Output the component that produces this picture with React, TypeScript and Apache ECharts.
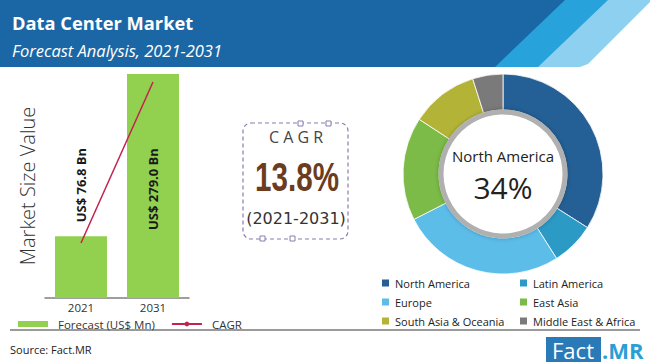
import React, { useEffect, useRef } from "react";
import * as echarts from "echarts";

const years = ["2021", "2031"];
const marketValues = [76.8, 279.0];
const valueLabels = ["US$ 76.8 Bn", "US$ 279.0 Bn"];
const cagrLine = [68.5, 269];
const regions = [
  "North America",
  "Latin America",
  "Europe",
  "East Asia",
  "South Asia & Oceania",
  "Middle East & Africa",
];
const shares = [34, 7, 26.5, 16.7, 10.9, 4.9];
const regionColors = ["#245f95", "#2b9ac5", "#5cbde9", "#7cbb47", "#b3b437", "#7a7a7a"];

const SANS = '"Open Sans", "Noto Sans", sans-serif';

export default function App() {
  const ref = useRef<HTMLDivElement>(null);
  useEffect(() => {
    document.body.style.margin = "0";
    const chart = echarts.init(ref.current!, null, { renderer: "svg" });
    const option: any = {
      animation: false,
      backgroundColor: "#ffffff",
      grid: { left: 45, width: 144, top: 74, bottom: 66 },
      xAxis: {
        type: "category",
        data: years,
        axisLine: { lineStyle: { color: "#7f7f7f", width: 1.5 } },
        axisTick: { show: false },
        axisLabel: { fontSize: 11.5, lineHeight: 12, color: "#333", margin: 3, fontFamily: SANS },
      },
      yAxis: {
        type: "value",
        min: 0,
        max: 279,
        axisLine: { show: false },
        axisTick: { show: false },
        axisLabel: { show: false },
        splitLine: { show: false },
        name: "Market Size Value",
        nameLocation: "middle",
        nameRotate: 90,
        nameGap: 8,
        nameTextStyle: { fontSize: 20, color: "#333", fontFamily: SANS, fontWeight: 300 },
      },
      legend: [
        {
          data: [{ name: "Forecast (US$ Mn)", icon: "rect" }, { name: "CAGR" }],
          left: 13,
          top: 313,
          itemWidth: 30,
          itemHeight: 6,
          itemGap: 16,
          selectedMode: false,
          textStyle: { fontSize: 11.5, lineHeight: 12, color: "#333", fontFamily: SANS, padding: [0, 0, 0, 5] },
        },
        {
          data: [regions[0], regions[2], regions[4]],
          orient: "vertical",
          left: 375,
          top: 272,
          itemWidth: 9,
          itemHeight: 9,
          itemGap: 7,
          icon: "rect",
          selectedMode: false,
          textStyle: { fontSize: 11, color: "#222", fontFamily: SANS, lineHeight: 12 },
        },
        {
          data: [regions[1], regions[3], regions[5]],
          orient: "vertical",
          left: 513,
          top: 272,
          itemWidth: 9,
          itemHeight: 9,
          itemGap: 7,
          icon: "rect",
          selectedMode: false,
          textStyle: { fontSize: 11, color: "#222", fontFamily: SANS, lineHeight: 12 },
        },
      ],
      series: [
        {
          type: "bar",
          name: "Forecast (US$ Mn)",
          barWidth: 52,
          itemStyle: { color: "#92d050" },
          label: {
            show: true,
            rotate: 90,
            align: "left",
            verticalAlign: "middle",
            fontWeight: "bold",
            fontSize: 13,
            color: "#1a1a1a",
            fontFamily: SANS,
            formatter: (p: any) => valueLabels[p.dataIndex],
          },
          data: marketValues.map((v, i) => ({
            value: v,
            label: i === 0 ? { position: "top", distance: 14 } : { position: "insideBottom", distance: 68 },
          })),
        },
        {
          type: "line",
          name: "CAGR",
          data: cagrLine,
          symbol: "none",
          lineStyle: { color: "#c1234f", width: 1.5 },
          itemStyle: { color: "#c1234f" },
          z: 3,
        },
        {
          type: "pie",
          center: [503, 174],
          radius: [64, 100],
          startAngle: 90,
          label: { show: false },
          labelLine: { show: false },
          emphasis: { disabled: true },
          itemStyle: { borderColor: "#ffffff", borderWidth: 0.8 },
          data: regions.map((r, i) => ({ name: r, value: shares[i], itemStyle: { color: regionColors[i] } })),
        },
      ],
      graphic: [
        // header
        { type: "polygon", shape: { points: [[0, 0], [566, 0], [496, 67], [0, 67]] }, style: { fill: "#1b67a5" } },
        { type: "polygon", shape: { points: [[565, 0], [609, 0], [539, 67], [495, 67]] }, style: { fill: "#27a2da" } },
        {
          type: "polygon",
          shape: { points: [[608, 0], [650, 0], [650, 2], [594, 58], [588, 64], [580, 67], [538, 67]] },
          style: { fill: "#8dd0ef" },
        },
        {
          type: "text",
          x: 12,
          y: 22,
          style: { text: "Data Center Market", fill: "#fff", fontSize: 18.3, fontWeight: "bold", fontFamily: SANS, verticalAlign: "middle" },
        },
        {
          type: "text",
          x: 12,
          y: 50,
          style: { text: "Forecast Analysis, 2021-2031", fill: "#fff", fontSize: 16.5, fontStyle: "italic", fontFamily: SANS, verticalAlign: "middle" },
        },
        // CAGR box
        {
          type: "rect",
          shape: { x: 243, y: 123, width: 105, height: 116, r: 8 },
          style: { fill: "none", stroke: "#8a7cae", lineWidth: 1.2, lineDash: [4, 3] },
        },
        { type: "rect", shape: { x: 298, y: 121, width: 5, height: 5 }, style: { fill: "#fff", stroke: "#8a7cae", lineWidth: 1 } },
        { type: "rect", shape: { x: 326, y: 121, width: 5, height: 5 }, style: { fill: "#fff", stroke: "#8a7cae", lineWidth: 1 } },
        { type: "rect", shape: { x: 260, y: 236, width: 5, height: 5 }, style: { fill: "#fff", stroke: "#8a7cae", lineWidth: 1 } },
        { type: "rect", shape: { x: 290, y: 236, width: 5, height: 5 }, style: { fill: "#fff", stroke: "#8a7cae", lineWidth: 1 } },
        {
          type: "text",
          x: 296,
          y: 137,
          style: { text: "C A G R", fill: "#444", fontSize: 16, fontFamily: SANS, align: "center", verticalAlign: "middle" },
        },
        {
          type: "text",
          x: 297,
          y: 177,
          scaleX: 0.74,
          style: {
            text: "13.8%",
            fill: "#6b3d1e",
            fontSize: 40,
            fontWeight: "bold",
            fontFamily: '"Liberation Sans", Arial, sans-serif',
            align: "center",
            verticalAlign: "middle",
          },
        },
        {
          type: "text",
          x: 296,
          y: 218,
          style: { text: "(2021-2031)", fill: "#333", fontSize: 16, fontFamily: '"DejaVu Sans", sans-serif', align: "center", verticalAlign: "middle" },
        },
        // donut center
        {
          type: "circle",
          z: 100,
          shape: { cx: 503, cy: 174, r: 62 },
          style: { fill: "#fff", stroke: "#b0b0b0", lineWidth: 5, shadowBlur: 4, shadowColor: "rgba(0,0,0,0.25)" },
        },
        {
          type: "text",
          z: 101,
          x: 503,
          y: 156,
          style: { text: "North America", fill: "#222", fontSize: 15, fontFamily: SANS, align: "center", verticalAlign: "middle" },
        },
        {
          type: "text",
          z: 101,
          x: 503,
          y: 187,
          style: { text: "34%", fill: "#222", fontSize: 30, fontFamily: SANS, align: "center", verticalAlign: "middle" },
        },
        // footer
        { type: "line", shape: { x1: 10, y1: 330, x2: 640, y2: 330 }, style: { stroke: "#9a9a9a", lineWidth: 2 } },
        {
          type: "text",
          x: 10,
          y: 349,
          style: { text: "Source: Fact.MR", fill: "#222", fontSize: 11, fontFamily: SANS, verticalAlign: "middle" },
        },
        { type: "rect", shape: { x: 546, y: 337, width: 55, height: 25 }, style: { fill: "#2a7ab8" } },
        {
          type: "text",
          x: 573,
          y: 350,
          style: { text: "Fact", fill: "#fff", fontSize: 22, fontFamily: SANS, align: "center", verticalAlign: "middle" },
        },
        {
          type: "text",
          x: 602,
          y: 350,
          style: { text: ".MR", fill: "#2a9fd6", fontSize: 22, fontWeight: "bold", fontFamily: SANS, verticalAlign: "middle" },
        },
      ],
    };
    chart.setOption(option);
    return () => chart.dispose();
  }, []);
  return <div ref={ref} style={{ width: 650, height: 364, position: "absolute", left: 0, top: 0 }} />;
}
